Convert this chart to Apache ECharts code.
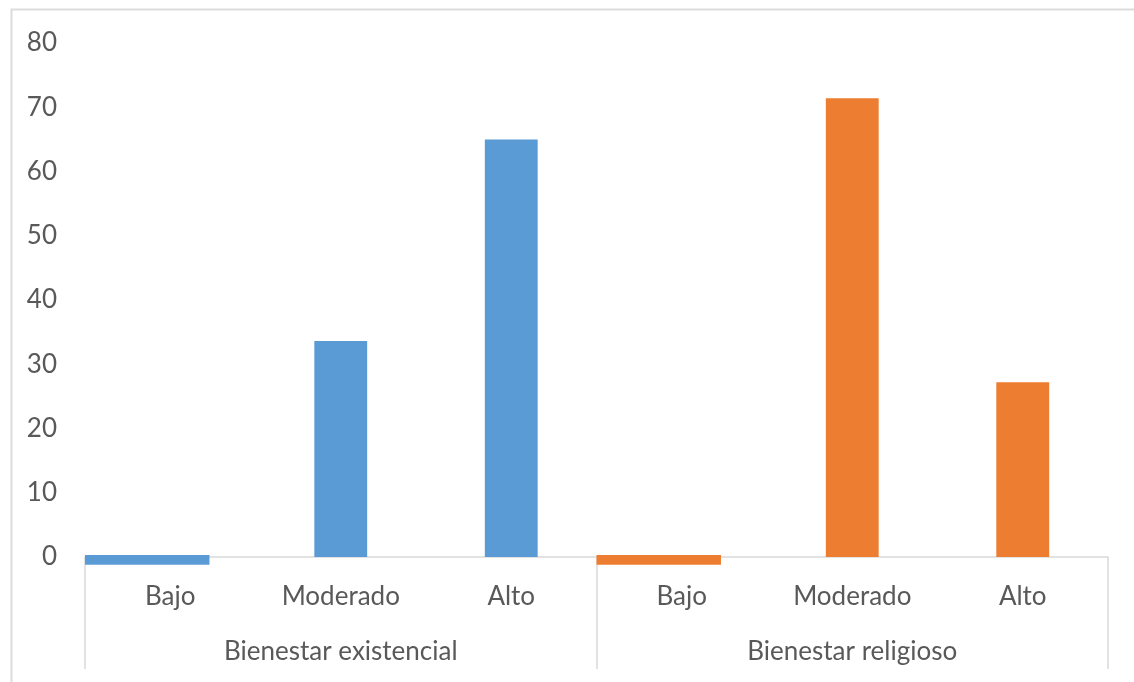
<!DOCTYPE html>
<html>
<head>
<meta charset="utf-8">
<title>Bienestar espiritual</title>
<script src="https://cdn.jsdelivr.net/npm/echarts@6/dist/echarts.min.js"></script>
<style>
  html, body { margin: 0; padding: 0; background: #ffffff; }
  #chart { width: 1134px; height: 682px; }
</style>
</head>
<body>
<div id="chart"></div>
<script>
// Levels within each dimension and the two dimensions
const levels = ['Bajo', 'Moderado', 'Alto'];
const groups = ['Bienestar existencial', 'Bienestar religioso'];

// Percentages per level
const existencial = [-1.2, 33.6, 65.0];
const religioso = [-1.2, 71.4, 27.2];

const yTicks = { min: 0, max: 80, interval: 10 };

const colors = ['#5b9bd5', '#ed7d31'];
const textColor = '#595959';
const lineColor = '#d9d9d9';
const fontFamily = 'Lato, "Open Sans", sans-serif';

// One category per level, repeated for each dimension
const categories = groups.flatMap(() => levels);
const groupValues = [existencial, religioso];

// Positive values are plain bars; each series only covers its own dimension
const barSeries = groupValues.map((vals, g) => ({
  type: 'bar',
  name: groups[g],
  barWidth: '31%',
  barGap: '-100%',
  itemStyle: { color: colors[g] },
  data: categories.map((_, i) => {
    const inGroup = Math.floor(i / levels.length) === g;
    const v = vals[i % levels.length];
    return inGroup && v > 0 ? v : null;
  })
}));

// Values below zero are drawn as wide strips hanging from the axis
const lowData = [];
groupValues.forEach((vals, g) => {
  vals.forEach((v, k) => {
    if (v <= 0) lowData.push([g * levels.length + k, v, g]);
  });
});

const lowSeries = {
  type: 'custom',
  clip: false,
  z: 3,
  data: lowData,
  renderItem: function (params, api) {
    const idx = api.value(0);
    const val = api.value(1);
    const g = api.value(2);
    const band = api.size([1, 0])[0];
    const zero = api.coord([idx, 0]);
    const bottom = api.coord([idx, val]);
    const x0 = zero[0] - band / 2;
    return {
      type: 'rect',
      shape: { x: x0, y: zero[1] - 2, width: band * 0.73, height: bottom[1] - zero[1] + 2 },
      style: { fill: colors[g] }
    };
  }
};

const chart = echarts.init(document.getElementById('chart'), null, { renderer: 'canvas' });

chart.setOption({
  animation: false,
  backgroundColor: '#ffffff',
  textStyle: { fontFamily: fontFamily },
  grid: { left: 85, right: 26, top: 43, bottom: 125, containLabel: false },
  graphic: [{
    type: 'rect',
    left: 9,
    top: 7,
    shape: { width: 1200, height: 800 },
    style: { fill: 'none', stroke: '#dcdcdc', lineWidth: 2 },
    silent: true,
    z: -10
  }],
  xAxis: [
    {
      type: 'category',
      data: categories,
      position: 'bottom',
      axisLine: { show: true, lineStyle: { color: lineColor, width: 1.5 } },
      axisTick: { show: false },
      splitLine: { show: false },
      axisLabel: {
        color: textColor,
        fontSize: 26,
        fontFamily: fontFamily,
        margin: 40,
        verticalAlign: 'middle',
        interval: 0
      }
    },
    {
      type: 'category',
      data: groups,
      position: 'bottom',
      axisLine: { show: false },
      axisTick: {
        show: true,
        inside: false,
        length: 112,
        alignWithLabel: false,
        interval: 0,
        lineStyle: { color: lineColor, width: 1.5 }
      },
      splitLine: { show: false },
      axisLabel: {
        color: textColor,
        fontSize: 26,
        fontFamily: fontFamily,
        margin: 95,
        verticalAlign: 'middle',
        interval: 0
      }
    }
  ],
  yAxis: {
    type: 'value',
    min: yTicks.min,
    max: yTicks.max,
    interval: yTicks.interval,
    axisLine: { show: false },
    axisTick: { show: false },
    splitLine: { show: false },
    axisLabel: {
      color: textColor,
      fontSize: 26,
      fontFamily: fontFamily,
      margin: 28
    }
  },
  series: [...barSeries, lowSeries]
});
</script>
</body>
</html>
